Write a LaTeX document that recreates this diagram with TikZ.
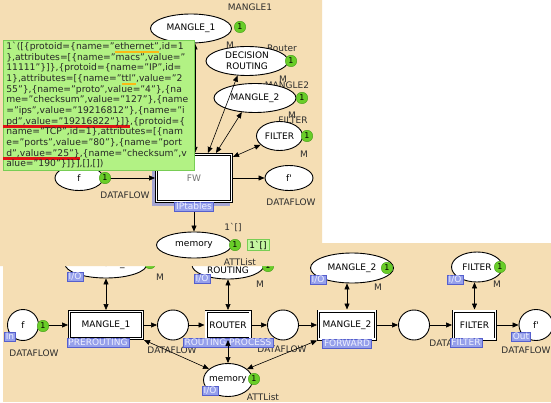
\documentclass[tikz,border=0pt]{standalone}
\usepackage{fontspec}
\setmainfont{DejaVu Sans}
\usetikzlibrary{positioning, shapes.geometric, arrows.meta}
\hyphenpenalty=10000
\exhyphenpenalty=10000

\definecolor{wheatbg}{RGB}{245,222,180}
\definecolor{popgreen}{RGB}{178,242,132}
\definecolor{popedge}{RGB}{120,205,85}
\definecolor{marklight}{RGB}{196,246,160}
\definecolor{tokgreen}{RGB}{105,205,40}
\definecolor{tokedge}{RGB}{70,160,25}
\definecolor{tagfill}{RGB}{150,160,235}
\definecolor{tagedge}{RGB}{85,95,205}
\definecolor{tagtext}{RGB}{238,240,255}
\definecolor{inkgray}{RGB}{45,45,45}
\definecolor{ulorange}{RGB}{250,185,20}
\definecolor{ulred}{RGB}{225,20,20}
\definecolor{fwshade}{RGB}{165,165,210}

\newsavebox\mlbox
\newcommand{\markunder}[4]{\leavevmode\sbox\mlbox{#4}\rlap{\smash{\kern-#3\textcolor{#1}{\rule[\dimexpr-1.2pt-#2\relax]{\dimexpr\wd\mlbox+#3\relax}{#2}}}}\usebox\mlbox}

\begin{document}
\begin{tikzpicture}[x=1pt, y=-1pt, font=\fontsize{9}{10.6}\selectfont, text=inkgray,
    >={Triangle[length=6pt,width=5pt]},
    place/.style={ellipse, draw=black, line width=0.9pt, fill=white, inner sep=0pt, text=black},
    trans/.style={rectangle, draw=black, line width=0.7pt, double=white, double distance=1.6pt, fill=white, inner sep=0pt, outer sep=1.5pt, text=black},
    token/.style={circle, fill=tokgreen, draw=tokedge, line width=0.4pt, inner sep=0pt, minimum size=11.5pt, font=\fontsize{8}{8}\selectfont, text=black},
    tag/.style={fill=tagfill, draw=tagedge, line width=0.5pt, inner xsep=1.5pt, inner ysep=0.6pt, text height=6.8pt, text depth=0.9pt, text=tagtext},
    marking/.style={fill=marklight, draw=popedge, line width=0.5pt, inner xsep=2.5pt, inner ysep=1.5pt, text=black},
    popup/.style={fill=popgreen, draw=popedge, line width=0.6pt, align=left, text width=185pt, inner xsep=3pt, inner ysep=2pt, font=\fontsize{9.2}{10.64}\selectfont, text=black!85},
    lbl/.style={inner sep=0pt},
    arr/.style={->, line width=0.6pt},
    darr/.style={<->, line width=0.6pt}]

    \useasboundingbox (0,0) rectangle (551,403);
    \fill[white] (0,0) rectangle (551,403);

    % lower page
    \fill[wheatbg] (3,243) rectangle (551,402);

    \node[lbl] (ld1) at (34,353) {DATAFLOW};
    \node[lbl] (ld2) at (172,350) {DATAFLOW};
    \node[lbl] (ld3) at (282,349) {DATAFLOW};
    \node[lbl] (ld4) at (454,343) {DATAFLOW};
    \node[lbl] (ld5) at (526,350) {DATAFLOW};
    \node[lbl] (latt) at (263,397) {ATTList};
    \node[lbl] (lm1) at (160,277) {M};
    \node[lbl] (lm2) at (260,284) {M};
    \node[lbl] (lm3) at (378,287) {M};
    \node[lbl] (lm4) at (497,284) {M};

    \node[place, minimum width=31, minimum height=31] (bf) at (23,325) {f};
    \node[place, minimum width=82, minimum height=28] (bm1) at (106,264) {MANGLE\_1};
    \node[place, minimum width=72, minimum height=28, align=center] (bdr) at (228,265) {DECISION\\ROUTING};
    \node[place, minimum width=83, minimum height=30] (bm2) at (352,268) {MANGLE\_2};
    \node[place, minimum width=51, minimum height=30] (bfi) at (477,267) {FILTER};
    \node[place, minimum width=31, minimum height=30] (bp1) at (173,325) {};
    \node[place, minimum width=31, minimum height=30] (bp2) at (283,325) {};
    \node[place, minimum width=31, minimum height=30] (bp3) at (414,325) {};
    \node[place, minimum width=34, minimum height=31] (bfo) at (536,325) {f\textquotesingle};
    \node[place, minimum width=49, minimum height=33, inner xsep=-5pt] (bmem) at (228,380) {memory};

    \node[trans, minimum width=73, minimum height=27] (tm1) at (106,325) {MANGLE\_1};
    \node[trans, minimum width=44, minimum height=27] (trt) at (228,325) {ROUTER};
    \node[trans, minimum width=57, minimum height=28] (tm2) at (347,325) {MANGLE\_2};
    \node[trans, minimum width=42, minimum height=28] (tfi) at (474.5,325) {FILTER};

    \node[tag] (gin) at (10,337) {In};
    \node[tag] (gpre) at (98,343) {PREROUTING};
    \node[tag] (grp) at (228,343) {ROUTING PROCESS};
    \node[tag] (gfwd) at (347,344) {FORWARD};
    \node[tag] (gfil) at (466,343) {FILTER};
    \node[tag] (gout) at (521,337) {Out};
    \node[tag] (gio1) at (75,277) {I/O};
    \node[tag] (gio2) at (202,279) {I/O};
    \node[tag] (gio3) at (318,280) {I/O};
    \node[tag] (gio4) at (455,280) {I/O};
    \node[tag] (gio5) at (210,391) {I/O};

    % Draw arcs
    \draw[arr] (bf) -- (tm1);
    \draw[arr] (tm1) -- (bp1);
    \draw[arr] (bp1) -- (trt);
    \draw[arr] (trt) -- (bp2);
    \draw[arr] (bp2) -- (tm2);
    \draw[arr] (tm2) -- (bp3);
    \draw[arr] (bp3) -- (tfi);
    \draw[arr] (tfi) -- (bfo);
    \draw[darr] (bm1) -- (tm1);
    \draw[darr] (bdr) -- (trt);
    \draw[darr] (tm2.north) -- (tm2.north |- bm2.south);
    \draw[darr] (tfi.north) -- (tfi.north |- bfi.south);
    \draw[darr] (tm1.south east) -- (bmem.150);
    \draw[darr] (trt.south) -- (bmem.north);
    \draw[darr] (tm2.south west) -- (bmem.30);

    \node[token] (kbf) at (43,326) {1};
    \node[token] (kbm1) at (150,263) {1};
    \node[token] (kbdr) at (268,266) {1};
    \node[token] (kbm2) at (387,268) {1};
    \node[token] (kbfi) at (500,267) {1};
    \node[token] (kbmem) at (254,379) {1};

    % upper page
    \fill[wheatbg] (0,0) -- (322,0) -- (322,243) -- (300,243) -- (300,266) -- (0,266) -- cycle;

    \node[lbl] (um1) at (250,7) {MANGLE1};
    \node[lbl] (uM1) at (230,45) {M};
    \node[lbl] (urt) at (282,48) {Router};
    \node[lbl] (uM2) at (283,79) {M};
    \node[lbl] (um2) at (287,85) {MANGLE2};
    \node[lbl] (uM3) at (292,115) {M};
    \node[lbl] (ufi) at (293,120) {FILTER};
    \node[lbl] (uM4) at (304,154) {M};
    \node[lbl] (ud1) at (125,195) {DATAFLOW};
    \node[lbl] (ud2) at (291,202) {DATAFLOW};
    \node[lbl] (uini) at (233,227) {1\textasciigrave[]};
    \node[lbl] (uatt) at (240,262) {ATTList};

    \node[place, minimum width=81, minimum height=29] (m1) at (191,28.5) {MANGLE\_1};
    \node[place, minimum width=82, minimum height=29, align=center] (dr) at (247,61) {DECISION\\ROUTING};
    \node[place, minimum width=82, minimum height=29] (m2) at (255,98) {MANGLE\_2};
    \node[place, minimum width=46, minimum height=29] (fi) at (279.5,136) {FILTER};
    \node[place, minimum width=48, minimum height=25] (f) at (79,178) {f};
    \node[place, minimum width=48, minimum height=25] (fo) at (289,178) {f\textquotesingle};
    \node[place, minimum width=75, minimum height=26] (mem) at (194,245) {memory};

    \fill[fwshade] (152,156) rectangle (230,206);
    \node[trans, minimum width=75, minimum height=47, text=black!55] (fw) at (194,178) {FW};

    % Draw arcs
    \draw[arr] (f) -- (fw);
    \draw[arr] (fw) -- (fo);
    \draw[arr] (fw) -- (mem);
    \draw[darr] ([xshift=4]m1.south) -- ([xshift=1]fw.north);
    \draw[darr] (dr.237) -- ([xshift=14]fw.north);
    \draw[darr] (m2.227) -- ([xshift=22]fw.north);
    \draw[darr] (fi.205) -- ([yshift=-4]fw.north east);

    \node[tag] (gipt) at (194,207) {IPtables};
    \node[marking] (mk) at (258,245) {1\textasciigrave[]};

    \node[token] (km1) at (240,27) {1};
    \node[token] (kdr) at (291,61) {1};
    \node[token] (km2) at (302,98) {1};
    \node[token] (kfi) at (307,136) {1};
    \node[token] (kf) at (105,178) {1};
    \node[token] (kmem) at (235,245) {1};

    \node[popup, anchor=north west] (pop) at (3,40) {1\textasciigrave([\{protoid=\{name="\markunder{ulorange}{1.8pt}{0pt}{ethernet"},id=1\\
\},attributes=[\{name="macs",value="\\
11111"\}]\},\{protoid=\{name="IP",id=\\
1\},attributes=[\{name="\markunder{ulorange}{1.8pt}{0pt}{ttl"},value="2\\
55"\},\{name="proto",value="4"\},\{na\\
me="checksum",value="127"\},\{name\\
="ips",value="19216812"\},\{name="i\\
\markunder{ulred}{2.6pt}{3pt}{pd",value="19216822"\}]\}},\{protoid=\{\\
name="TCP",id=1\},attributes=[\{nam\\
e="ports",value="80"\},\{name="port\\
\markunder{ulred}{2.6pt}{3pt}{d",value="25"\}},\{name="checksum",v\\
alue="190"\}]\}],[],[])};
\end{tikzpicture}
\end{document}
